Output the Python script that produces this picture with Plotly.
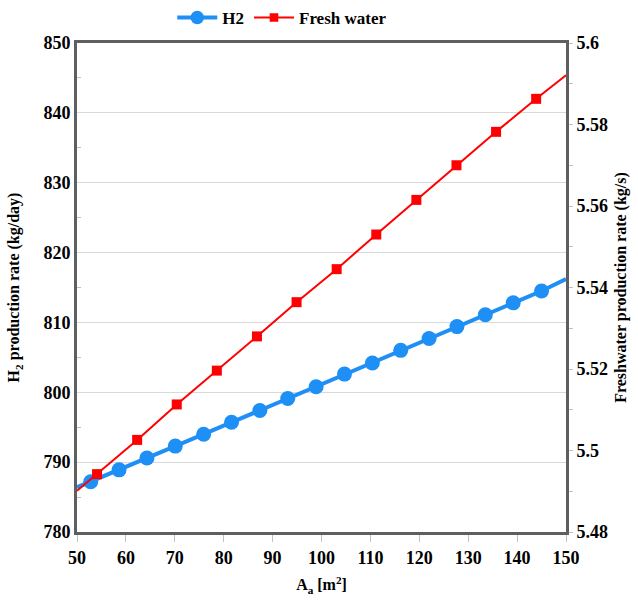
import plotly.graph_objects as go

# Data
h2_x = [50, 52.8, 58.6, 64.3, 70.1, 75.9, 81.6, 87.4, 93.1, 98.9, 104.7, 110.4,
        116.2, 122.0, 127.7, 133.5, 139.2, 145.0, 150]
h2_y = [786.4, 787.2, 788.9, 790.6, 792.3, 794.0, 795.7, 797.4, 799.1, 800.8,
        802.6, 804.2, 806.0, 807.7, 809.4, 811.1, 812.8, 814.5, 816.2]
h2_marker_size = [0] + [15] * 17 + [0]

fw_x = [50, 54.1, 62.3, 70.4, 78.6, 86.8, 94.9, 103.1, 111.2, 119.4, 127.6,
        135.7, 143.9, 150]
fw_y = [5.4901, 5.4942, 5.5026, 5.5113, 5.5196, 5.5280, 5.5364, 5.5445,
        5.5530, 5.5615, 5.5700, 5.5782, 5.5863, 5.5921]
fw_marker_size = [0] + [10] * 12 + [0]

FONT = "Liberation Serif"
FRAME = "#5f5f5f"
TICKC = "#c0c0c0"

fig = go.Figure()
fig.add_trace(go.Scatter(
    x=h2_x, y=h2_y, name="H2", mode="lines+markers",
    line=dict(color="#1e8ff5", width=4),
    marker=dict(symbol="circle", size=h2_marker_size, color="#1e8ff5", opacity=1,
                line=dict(width=0)),
    yaxis="y",
))
fig.add_trace(go.Scatter(
    x=fw_x, y=fw_y, name="Fresh water", mode="lines+markers",
    line=dict(color="#ff0000", width=2),
    marker=dict(symbol="square", size=fw_marker_size, color="#ff0000", opacity=1,
                line=dict(width=0)),
    yaxis="y2",
))

tickfont = dict(family=FONT, size=18, color="black", weight="bold")
titlefont = dict(family=FONT, size=16, color="black", weight="bold")

fig.update_layout(
    width=638, height=601,
    margin=dict(l=77, r=72, t=43, b=69, autoexpand=False),
    paper_bgcolor="white", plot_bgcolor="white",
    font=dict(family=FONT, color="black"),
    legend=dict(
        orientation="h", xref="container", x=0.27, xanchor="left",
        yref="container", y=0.97, yanchor="middle",
        font=dict(family=FONT, size=17, color="black", weight="bold"),
        bgcolor="rgba(0,0,0,0)", itemwidth=40, traceorder="normal",
    ),
    xaxis=dict(
        range=[50, 150], dtick=10, tick0=50, automargin=False,
        showline=True, linecolor=FRAME, linewidth=3, mirror=True,
        showgrid=False, zeroline=False,
        ticks="outside", ticklen=7, tickcolor=TICKC, tickwidth=1,
        tickfont=tickfont,
        title=dict(text="A<sub>a</sub> [m<sup>2</sup>]", font=titlefont, standoff=13),
    ),
    yaxis=dict(
        range=[780, 850], dtick=10, tick0=780, automargin=False,
        showline=True, linecolor=FRAME, linewidth=3, mirror=True,
        showgrid=True, gridcolor="#d9d9d9", gridwidth=1, zeroline=False,
        ticks="", tickfont=tickfont,
        minor=dict(dtick=5, ticks="inside", ticklen=4, tickcolor=TICKC, showgrid=False),
        title=dict(text="H<sub>2</sub> production rate (kg/day)", font=titlefont, standoff=20),
    ),
    yaxis2=dict(
        range=[5.48, 5.6], dtick=0.02, tick0=5.48, overlaying="y", side="right",
        automargin=False,
        showline=True, linecolor=FRAME, linewidth=3,
        showgrid=False, zeroline=False,
        ticks="outside", ticklen=4, tickcolor=TICKC,
        tickfont=tickfont, tickformat="~g",
        minor=dict(dtick=0.01, ticks="outside", ticklen=4, tickcolor=TICKC, showgrid=False),
        title=dict(text="Freshwater production rate (kg/s)", font=titlefont, standoff=8),
    ),
)

fig.write_html("out.html")
